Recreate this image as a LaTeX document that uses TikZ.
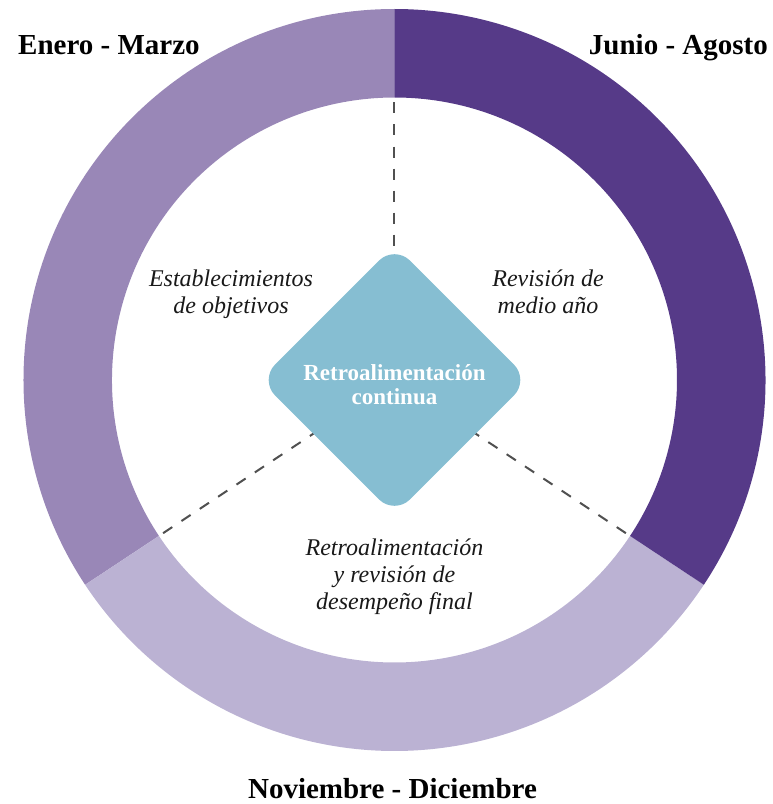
\documentclass[tikz,border=0pt]{standalone}
\usepackage{fontspec}
\setmainfont{Liberation Serif}
\usetikzlibrary{shapes.geometric}
\definecolor{janmar}{HTML}{9987B7}
\definecolor{junago}{HTML}{563A88}
\definecolor{novdic}{HTML}{BBB2D3}
\definecolor{contblue}{HTML}{86BED2}
\definecolor{guidegray}{HTML}{505050}
\begin{document}
\begin{tikzpicture}[x=1pt, y=1pt,
    period/.style ={font=\bfseries\fontsize{29}{34}\selectfont, inner sep=0pt, text=black},
    phase/.style ={font=\itshape\fontsize{24}{27}\selectfont, align=center, inner sep=0pt, text=black!90},
    feedback/.style ={diamond, fill=contblue, text=white, minimum size=270pt, inner sep=0pt,
        rounded corners=22pt, align=center, font=\bfseries\fontsize{23}{24}\selectfont},
    guide/.style ={guidegray, line width=2pt, dash pattern=on 11pt off 11pt, dash phase=17pt}]
   \useasboundingbox (-394.5,-424) rectangle (378.5,380);
   \fill[janmar] (90:371pt) arc (90:213.5:371pt) -- (213.5:282.5pt) arc (213.5:90:282.5pt) -- cycle;
   \fill[novdic] (213.5:371pt) arc (213.5:326.5:371pt) -- (326.5:282.5pt) arc (326.5:213.5:282.5pt) -- cycle;
   \fill[junago] (-33.5:371pt) arc (-33.5:90:371pt) -- (90:282.5pt) arc (90:-33.5:282.5pt) -- cycle;
   \coordinate (C)  at (0,0);
   \coordinate (T)  at (90:282.5pt);
   \coordinate (L)  at (213.5:282.5pt);
   \coordinate (R)  at (-33.5:282.5pt);
   \draw[guide] (T) to (C);
   \draw[guide] (L) to (C);
   \draw[guide] (R) to (C);
   \node[feedback] (F) at (C) {\rule{0pt}{25pt}Retroalimentación\\continua};
   \node[phase] (A) at (-163.5,86)  {Establecimientos\\de objetivos};
   \node[phase] (B) at (153.5,88)   {Revisión de\\medio año};
   \node[phase] (D) at (0,-196.5)   {Retroalimentación\\y revisión de\\desempeño final};
   \node[period, anchor=base west] (EM) at (-376.5,325) {Enero - Marzo};
   \node[period, anchor=base east] (JA) at (373.5,325)  {Junio - Agosto};
   \node[period, anchor=base]      (ND) at (-2,-418)    {Noviembre - Diciembre};
 \end{tikzpicture}
\end{document}
